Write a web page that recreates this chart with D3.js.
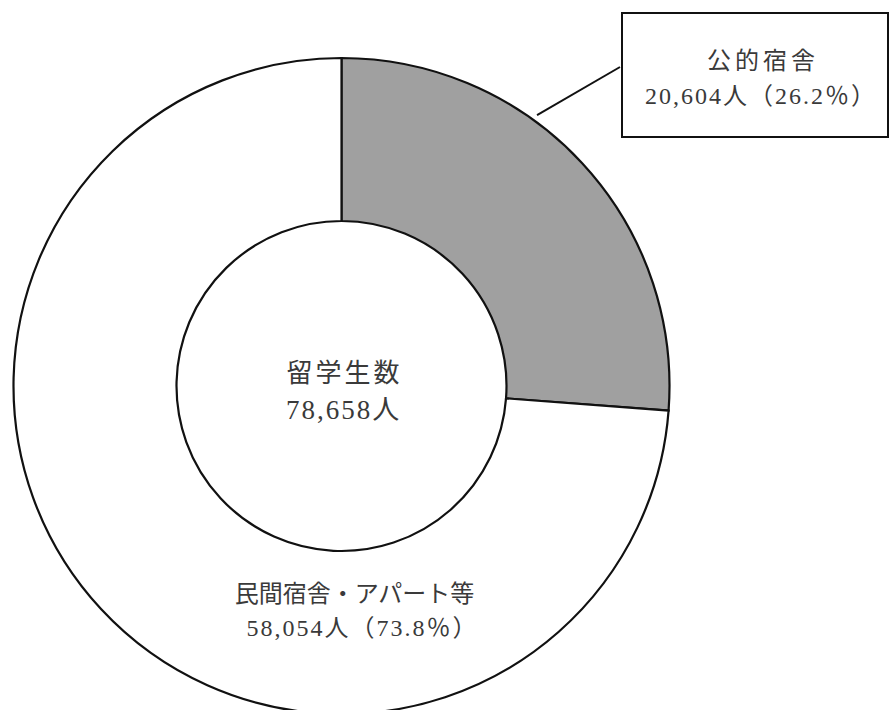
<!DOCTYPE html>
<html lang="ja">
<head>
<meta charset="utf-8">
<script src="https://cdn.jsdelivr.net/npm/d3@7"></script>
<style>
  html, body { margin: 0; padding: 0; background: #fff; }
  svg { display: block; }
  text { font-family: "Noto Sans CJK JP", sans-serif; fill: #3a3a3a; }
</style>
</head>
<body>
<svg id="chart" width="893" height="710"></svg>
<script>
// Residence of international students
const categories = ["公的宿舎", "民間宿舎・アパート等"];
const values = [20604, 58054];
const percents = ["26.2", "73.8"];
const totalLabel = "留学生数";
const total = 78658;
const fills = ["#a0a0a0", "#ffffff"];

const cx = 341.5, cy = 386;
const rOuter = 328, rInner = 165;
const serifFace = "'Liberation Serif', 'DejaVu Serif', serif";

const svg = d3.select("#chart");
const g = svg.append("g").attr("transform", `translate(${cx},${cy})`);

const pie = d3.pie().sort(null).value(d => d.value);
const arc = d3.arc().innerRadius(rInner).outerRadius(rOuter);
const data = categories.map((c, i) => ({ name: c, value: values[i], pct: percents[i], fill: fills[i] }));
const arcs = pie(data);

g.selectAll("path.slice")
  .data(arcs)
  .join("path")
  .attr("class", "slice")
  .attr("d", arc)
  .attr("fill", d => d.data.fill)
  .attr("stroke", "#111")
  .attr("stroke-width", 2.2);

const fmt = d3.format(",");

// Two-line label in one text element; digits set in a serif face
function label(parent, x, y, lines) {
  const t = parent.append("text").attr("text-anchor", "middle");
  lines.forEach(ln => {
    const row = t.append("tspan")
      .attr("x", x + (ln.dx || 0))
      .attr("y", y + ln.dy)
      .attr("font-size", ln.size)
      .attr("letter-spacing", ln.spacing || 0);
    ln.text.match(/[0-9.,]+|[^0-9.,]+/g).forEach(p => {
      const s = row.append("tspan").text(p);
      if (/[0-9]/.test(p)) s.style("font-family", serifFace);
    });
  });
  return t;
}

// centre label
label(g, 1, 0, [
  { text: totalLabel, dy: -4, size: 26, spacing: 3, dx: 2 },
  { text: fmt(total) + "人", dy: 33, size: 27, spacing: 2, dx: 1 }
]);

// callout box for the first slice
const box = { x: 622, y: 13, w: 266, h: 124 };
const leadAngle = arcs[0].startAngle + (arcs[0].endAngle - arcs[0].startAngle) * 0.38;
const leadR = rOuter + 6;
const lx = cx + leadR * Math.sin(leadAngle), ly = cy - leadR * Math.cos(leadAngle);
svg.append("line")
  .attr("x1", lx).attr("y1", ly)
  .attr("x2", box.x - 2).attr("y2", box.y + 54)
  .attr("stroke", "#111").attr("stroke-width", 2);
svg.append("rect")
  .attr("x", box.x).attr("y", box.y).attr("width", box.w).attr("height", box.h)
  .attr("fill", "#fff").attr("stroke", "#111").attr("stroke-width", 2);
label(svg, 756, 0, [
  { text: data[0].name, dy: 69, size: 24, spacing: 4, dx: 7 },
  { text: `${fmt(data[0].value)}人（${data[0].pct}％）`, dy: 104, size: 24, spacing: 2, dx: 5 }
]);

// label inside the second slice
label(svg, cx + 15, 0, [
  { text: data[1].name, dy: 602, size: 24, dx: -2 },
  { text: `${fmt(data[1].value)}人（${data[1].pct}％）`, dy: 636, size: 24, spacing: 2, dx: 6 }
]);
</script>
</body>
</html>
